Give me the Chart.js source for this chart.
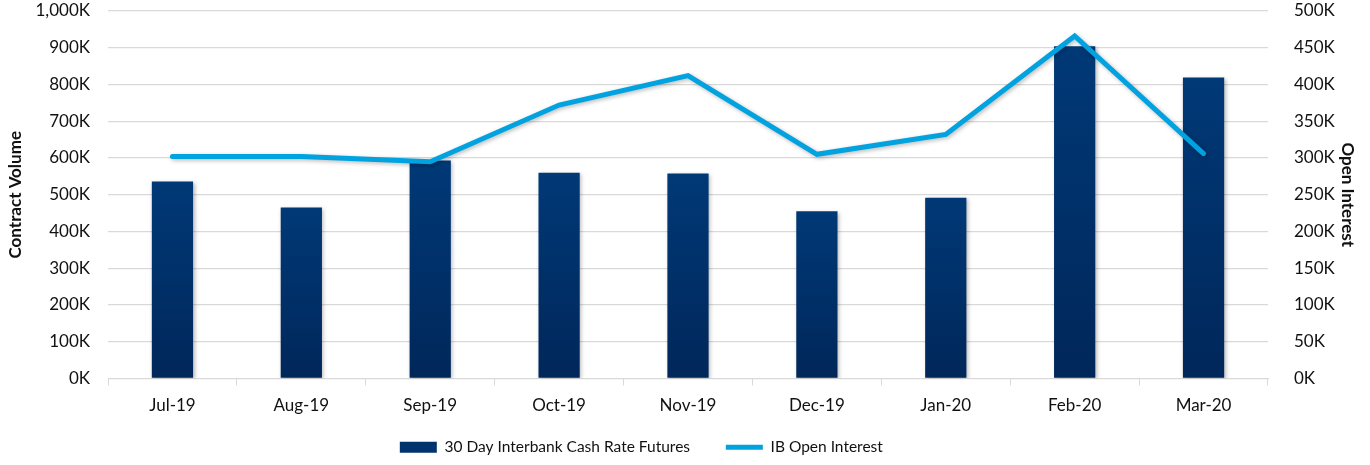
<!DOCTYPE html>
<html lang="en">
<head>
  <meta charset="UTF-8">
  <title>Contract Volume and Open Interest</title>
  <script src="https://cdn.jsdelivr.net/npm/chart.js"></script>
  <style>
    html, body { margin: 0; padding: 0; background: #fff; }
    #wrap { width: 1370px; height: 465px; }
  </style>
</head>
<body>
  <div id="wrap"><canvas id="volChart" width="1370" height="465"></canvas></div>

  <script>
    // values in thousands
    const months = ['Jul-19', 'Aug-19', 'Sep-19', 'Oct-19', 'Nov-19', 'Dec-19', 'Jan-20', 'Feb-20', 'Mar-20'];
    const contractVolume = [536, 465, 593, 560, 558, 455, 492, 904, 819];
    const openInterest = [302, 302, 295, 372, 412, 305, 332, 466, 306];

    const FONT = 'Lato, "Open Sans", sans-serif';
    const TEXT = '#111';
    const GRID = '#d9d9d9';

    function fmtK(v) {
      return v.toLocaleString('en-US') + 'K';
    }

    function barFill(context) {
      const chart = context.chart;
      const area = chart.chartArea;
      if (!area || context.raw == null) return '#00346C';
      const yTop = chart.scales.y.getPixelForValue(context.raw);
      const g = chart.ctx.createLinearGradient(0, yTop, 0, area.bottom);
      g.addColorStop(0, '#003977');
      g.addColorStop(1, '#00275A');
      return g;
    }

    // y axes: drop the automatic label padding so the plot can start near the top
    function fixY(width) {
      return function (scale) {
        scale.width = width;
        scale.paddingTop = 0;
        scale.paddingBottom = 0;
      };
    }

    // soft drop shadow like the original
    const shadowPlugin = {
      id: 'shadow',
      beforeDatasetDraw(chart) {
        const ctx = chart.ctx;
        ctx.save();
        ctx.shadowColor = 'rgba(0,0,0,0.28)';
        ctx.shadowBlur = 4;
        ctx.shadowOffsetX = 1.5;
        ctx.shadowOffsetY = 1.5;
      },
      afterDatasetDraw(chart) {
        chart.ctx.restore();
      }
    };

    const ctx = document.getElementById('volChart').getContext('2d');
    new Chart(ctx, {
      data: {
        labels: months,
        datasets: [
          {
            type: 'line',
            label: 'IB Open Interest',
            data: openInterest,
            yAxisID: 'y2',
            borderColor: '#00A2E0',
            backgroundColor: '#00A2E0',
            borderWidth: 5,
            pointRadius: 0,
            pointStyle: 'line',
            tension: 0,
            borderCapStyle: 'round',
            borderJoinStyle: 'miter',
            order: 0
          },
          {
            type: 'bar',
            label: '30 Day Interbank Cash Rate Futures',
            data: contractVolume,
            yAxisID: 'y',
            backgroundColor: barFill,
            pointStyle: 'rect',
            barPercentage: 0.32,
            categoryPercentage: 1,
            order: 1
          }
        ]
      },
      options: {
        responsive: false,
        animation: false,
        layout: { padding: { top: 11, left: 0, right: 0, bottom: 0 } },
        plugins: {
          tooltip: { enabled: false },
          legend: {
            position: 'bottom',
            reverse: true,
            labels: {
              usePointStyle: true,
              pointStyleWidth: 37,
              boxHeight: 11,
              padding: 8,
              color: TEXT,
              font: { family: FONT, size: 15.5 },
              generateLabels(chart) {
                const items = Chart.defaults.plugins.legend.labels.generateLabels(chart);
                items.forEach((it) => {
                  if (it.datasetIndex === 1) {
                    it.text += '       ';
                    it.fillStyle = '#00326E';
                  } else {
                    // trailing room so the legend sits left of centre as in the original
                    it.text += ' '.repeat(22);
                  }
                });
                return items;
              }
            }
          }
        },
        scales: {
          x: {
            offset: true,
            grid: {
              offset: true,
              drawOnChartArea: false,
              tickLength: 7,
              color: GRID
            },
            border: { color: GRID },
            ticks: { color: TEXT, padding: 10, font: { family: FONT, size: 17 } },
            afterFit(scale) { scale.height = 53; }
          },
          y: {
            position: 'left',
            min: 0,
            max: 1000,
            grid: { color: GRID, lineWidth: 1.3, drawTicks: false },
            border: { display: false },
            ticks: {
              stepSize: 100,
              padding: 18,
              color: TEXT,
              font: { family: FONT, size: 17 },
              callback: (v) => fmtK(v)
            },
            title: {
              display: true,
              text: 'Contract Volume',
              color: TEXT,
              padding: { top: 5, bottom: 0 },
              font: { family: FONT, size: 17, weight: 'bold' }
            },
            afterFit: fixY(108)
          },
          y2: {
            position: 'right',
            min: 0,
            max: 500,
            grid: { display: false },
            border: { display: false },
            ticks: {
              stepSize: 50,
              padding: 18,
              color: TEXT,
              font: { family: FONT, size: 17 },
              callback: (v) => fmtK(v)
            },
            title: {
              display: true,
              text: 'Open Interest',
              color: TEXT,
              padding: { top: 12, bottom: 0 },
              font: { family: FONT, size: 17, weight: 'bold' }
            },
            afterFit: fixY(102)
          }
        }
      },
      plugins: [shadowPlugin]
    });
  </script>
</body>
</html>
